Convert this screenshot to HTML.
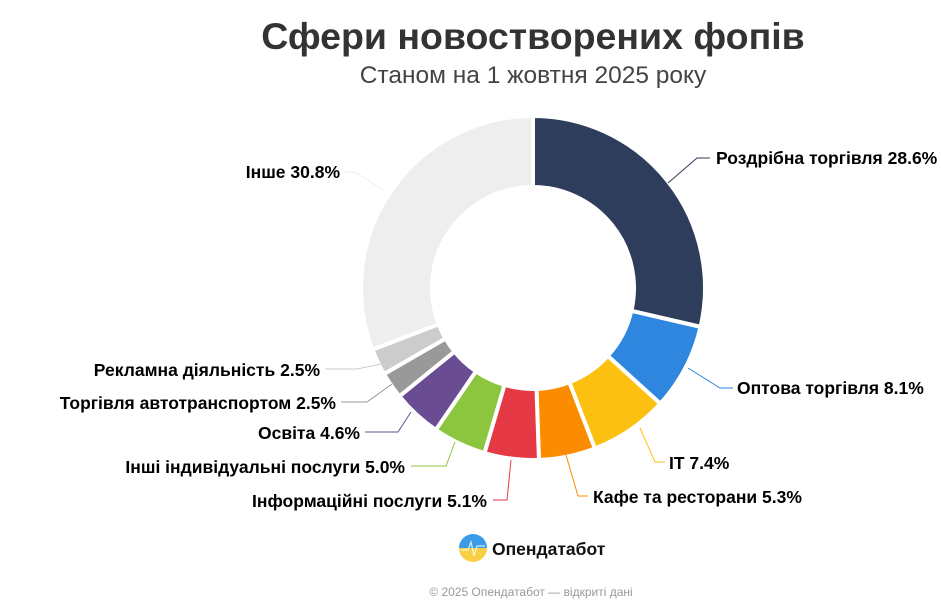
<!DOCTYPE html>
<html><head><meta charset="utf-8"><style>
body{margin:0;background:#fff;width:941px;height:600px;overflow:hidden;font-family:"Liberation Sans",sans-serif}
</style></head><body>
<svg id="s" width="941" height="600" xmlns="http://www.w3.org/2000/svg" font-family="Liberation Sans, sans-serif">
<text x="533" y="49" text-anchor="middle" font-size="37.5" font-weight="bold" fill="#333">Сфери новостворених фопів</text>
<text x="533" y="83" text-anchor="middle" font-size="24.5" fill="#444">Станом на 1 жовтня 2025 року</text>
<g id="pie"></g>
<g fill="none" stroke-width="1">
<polyline points="668,183 697,158 710,158" stroke="#2e3d5c"/>
<polyline points="688,368 720,388 733,388" stroke="#2e86de"/>
<polyline points="640,428 655,462 665,462" stroke="#fcc010"/>
<polyline points="566,455 578,496 588,496" stroke="#fb8c00"/>
<polyline points="511,460 507,500 493,500" stroke="#e63946"/>
<polyline points="455,442 446,466 411,466" stroke="#8cc63f"/>
<polyline points="411,412 398,432 365,432" stroke="#6a4c93"/>
<polyline points="392,384 367,402 341,402" stroke="#999"/>
<polyline points="381,364 357,369 325,369" stroke="#ccc"/>
<polyline points="383,190 355,172 345,172" stroke="#eee"/>
</g>
<g font-size="17.5" font-weight="bold" fill="#000">
<text x="716" y="164">Роздрібна торгівля 28.6%</text>
<text x="737" y="394">Оптова торгівля 8.1%</text>
<text x="669" y="469">IT 7.4%</text>
<text x="593" y="503">Кафе та ресторани 5.3%</text>
<g text-anchor="end">
<text x="487" y="507">Інформаційні послуги 5.1%</text>
<text x="405" y="473">Інші індивідуальні послуги 5.0%</text>
<text x="360" y="439">Освіта 4.6%</text>
<text x="336" y="409">Торгівля автотранспортом 2.5%</text>
<text x="320" y="376">Рекламна діяльність 2.5%</text>
<text x="340" y="178">Інше 30.8%</text>
</g></g>
<defs><linearGradient id="lg" x1="0" y1="0" x2="0" y2="1"><stop offset="0.5" stop-color="#3a9be8"/><stop offset="0.5" stop-color="#f7d046"/></linearGradient></defs>
<circle cx="473" cy="548" r="14" fill="url(#lg)"/>
<polyline points="461,550 468,550 471,542 474,556 477,546 485,546" fill="none" stroke="#fff" stroke-width="1.2" opacity="0.8"/>
<text x="492" y="555" font-size="17.5" font-weight="bold" fill="#111">Опендатабот</text>
<text x="531" y="596" text-anchor="middle" font-size="12" fill="#999">© 2025 Опендатабот — відкриті дані</text>
</svg>
<script>
var d=[[28.6,"#2e3d5c"],[8.1,"#2e86de"],[7.4,"#fcc010"],[5.3,"#fb8c00"],[5.1,"#e63946"],[5.0,"#8cc63f"],[4.6,"#6a4c93"],[2.5,"#999999"],[2.5,"#cccccc"],[30.8,"#eeeeee"]];
var tot=0;d.forEach(function(x){tot+=x[0]});
var cx=533,cy=288,R=172,r=101,a=0,h="";
function p(rad,ang){return (cx+rad*Math.sin(ang)).toFixed(2)+","+(cy-rad*Math.cos(ang)).toFixed(2)}
d.forEach(function(x){var b=a+x[0]/tot*2*Math.PI;var l=(b-a)>Math.PI?1:0;
h+='<path d="M'+p(R,a)+' A'+R+','+R+' 0 '+l+' 1 '+p(R,b)+' L'+p(r,b)+' A'+r+','+r+' 0 '+l+' 0 '+p(r,a)+' Z" fill="'+x[1]+'" stroke="#fff" stroke-width="4" stroke-linejoin="round"/>';a=b;});
document.getElementById("pie").innerHTML=h;
</script>
</body></html>
